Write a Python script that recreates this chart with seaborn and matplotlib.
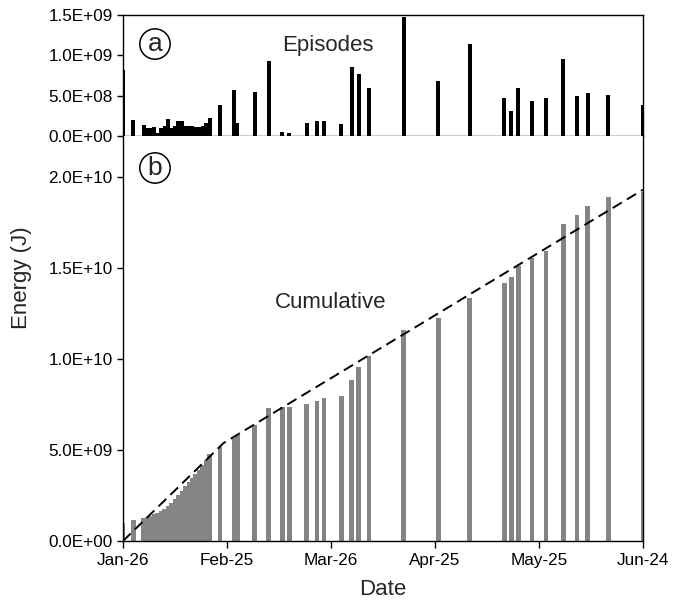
import numpy as np
import pandas as pd
import matplotlib
matplotlib.use("Agg")
import matplotlib.pyplot as plt
import matplotlib.dates as mdates
from matplotlib.ticker import FuncFormatter, FixedLocator
import seaborn as sns

# ---------------- data ----------------
episode_dates = [
    "2012-01-26", "2012-01-29",
    "2012-02-01", "2012-02-02", "2012-02-03", "2012-02-04", "2012-02-05",
    "2012-02-06", "2012-02-07", "2012-02-08", "2012-02-09", "2012-02-10",
    "2012-02-11", "2012-02-12", "2012-02-13", "2012-02-14", "2012-02-15",
    "2012-02-16", "2012-02-17", "2012-02-18", "2012-02-19", "2012-02-20",
    "2012-02-23", "2012-02-27", "2012-02-28", "2012-03-04", "2012-03-08",
    "2012-03-12", "2012-03-14", "2012-03-19", "2012-03-22", "2012-03-24",
    "2012-03-29", "2012-04-01", "2012-04-03", "2012-04-06", "2012-04-16",
    "2012-04-26", "2012-05-05", "2012-05-15", "2012-05-17", "2012-05-19",
    "2012-05-23", "2012-05-27", "2012-06-01", "2012-06-05", "2012-06-08",
    "2012-06-14", "2012-06-24",
]
episode_energy = [
    0.82e9, 0.20e9,
    0.136e9, 0.095e9, 0.095e9, 0.11e9, 0.04e9,
    0.10e9, 0.13e9, 0.21e9, 0.10e9, 0.13e9,
    0.18e9, 0.18e9, 0.13e9, 0.13e9, 0.125e9,
    0.115e9, 0.11e9, 0.13e9, 0.165e9, 0.22e9,
    0.38e9, 0.57e9, 0.16e9, 0.55e9, 0.93e9,
    0.054e9, 0.04e9, 0.165e9, 0.19e9, 0.18e9,
    0.15e9, 0.86e9, 0.77e9, 0.60e9, 1.475e9,
    0.68e9, 1.145e9, 0.475e9, 0.306e9, 0.60e9,
    0.44e9, 0.475e9, 0.955e9, 0.49e9, 0.53e9,
    0.51e9, 0.39e9,
]

cumulative_dates = list(episode_dates)
cumulative_energy = [
    0.97e9, 1.15e9,
    1.29e9, 1.33e9, 1.40e9, 1.46e9, 1.55e9,
    1.63e9, 1.75e9, 1.90e9, 2.10e9, 2.30e9,
    2.50e9, 2.75e9, 3.00e9, 3.22e9, 3.44e9,
    3.66e9, 3.90e9, 4.15e9, 4.45e9, 4.80e9,
    5.18e9, 5.66e9, 5.82e9, 6.37e9, 7.30e9,
    7.34e9, 7.38e9, 7.53e9, 7.71e9, 7.86e9,
    7.99e9, 8.85e9, 9.58e9, 10.16e9, 11.59e9,
    12.25e9, 13.37e9, 14.19e9, 14.50e9, 15.11e9,
    15.53e9, 15.95e9, 17.43e9, 17.89e9, 18.41e9,
    18.90e9, 19.19e9,
]

trend_dates = ["2012-01-26", "2012-02-24", "2012-06-24"]
trend_energy = [0.0, 5.38e9, 19.30e9]

tick_dates = ["2012-01-26", "2012-02-25", "2012-03-26",
              "2012-04-25", "2012-05-25", "2012-06-24"]
top_yticks = [0.0, 0.5e9, 1.0e9, 1.5e9]
bottom_yticks = [0.0, 5e9, 10e9, 15e9, 20e9]

# ---------------- style ----------------
sns.set_style("ticks")
plt.rcParams["font.family"] = ["Liberation Sans", "DejaVu Sans"]

def dnum(lst):
    return mdates.date2num(pd.to_datetime(lst))

ep = pd.DataFrame({"date": dnum(episode_dates), "energy": episode_energy})
cu = pd.DataFrame({"date": dnum(cumulative_dates), "energy": cumulative_energy})
tr = pd.DataFrame({"date": dnum(trend_dates), "energy": trend_energy})
ticks = dnum(tick_dates)

fig = plt.figure(figsize=(6.8, 6.02), dpi=100)
W, H = 680, 602
ax1 = fig.add_axes([123 / W, 1 - 136 / H, 520 / W, 121 / H])
ax2 = fig.add_axes([123 / W, 1 - 541 / H, 520 / W, 405 / H])

sns.barplot(data=ep, x="date", y="energy", native_scale=True, orient="x",
            width=1.15, color="black", saturation=1, errorbar=None,
            linewidth=0, ax=ax1)
sns.barplot(data=cu, x="date", y="energy", native_scale=True, orient="x",
            width=1.35, color="#858585", saturation=1, errorbar=None,
            linewidth=0, ax=ax2)
sns.lineplot(data=tr, x="date", y="energy", color="black",
             linestyle=(0, (5.5, 3)), linewidth=1.4, ax=ax2)

fmt = FuncFormatter(lambda v, p: "{:.1E}".format(v))
for ax in (ax1, ax2):
    ax.set_xlim(ticks[0], ticks[-1])
    ax.xaxis.set_major_locator(FixedLocator(ticks))
    ax.xaxis.set_major_formatter(mdates.DateFormatter("%b-%d"))
    ax.yaxis.set_major_formatter(fmt)
    ax.set_xlabel("")
    ax.set_ylabel("")
    ax.tick_params(axis="both", labelsize=12.3, length=4, width=1,
                   color="black", labelcolor="black", direction="out")
    for s in ax.spines.values():
        s.set_color("black")
        s.set_linewidth(1.0)

ax1.set_ylim(0, 1.5e9)
ax1.set_yticks(top_yticks)
ax1.tick_params(axis="x", bottom=False, labelbottom=False)

ax2.set_ylim(0, 22.25e9)
ax2.set_yticks(bottom_yticks)
ax2.spines["top"].set_visible(False)
ax2.tick_params(axis="x", length=5, pad=3.5)
ax2.set_xlabel("Date", fontsize=16, labelpad=8)

ax1.text(0.394, 0.752, "Episodes", transform=ax1.transAxes,
         ha="center", va="center", fontsize=16)
ax2.text(0.40, 0.590, "Cumulative", transform=ax2.transAxes,
         ha="center", va="center", fontsize=16)

circ = dict(boxstyle="circle,pad=0.12", fc="none", ec="black", lw=1.1)
ax1.text(0.0615, 0.760, "a", transform=ax1.transAxes, ha="center",
         va="center", fontsize=19, bbox=circ)
ax2.text(0.0615, 0.921, "b", transform=ax2.transAxes, ha="center",
         va="center", fontsize=19, bbox=circ)

fig.text(22 / W, 1 - 278 / H, "Energy (J)", rotation=90, ha="center",
         va="center", fontsize=16)

fig.savefig("out.png", dpi=100)
